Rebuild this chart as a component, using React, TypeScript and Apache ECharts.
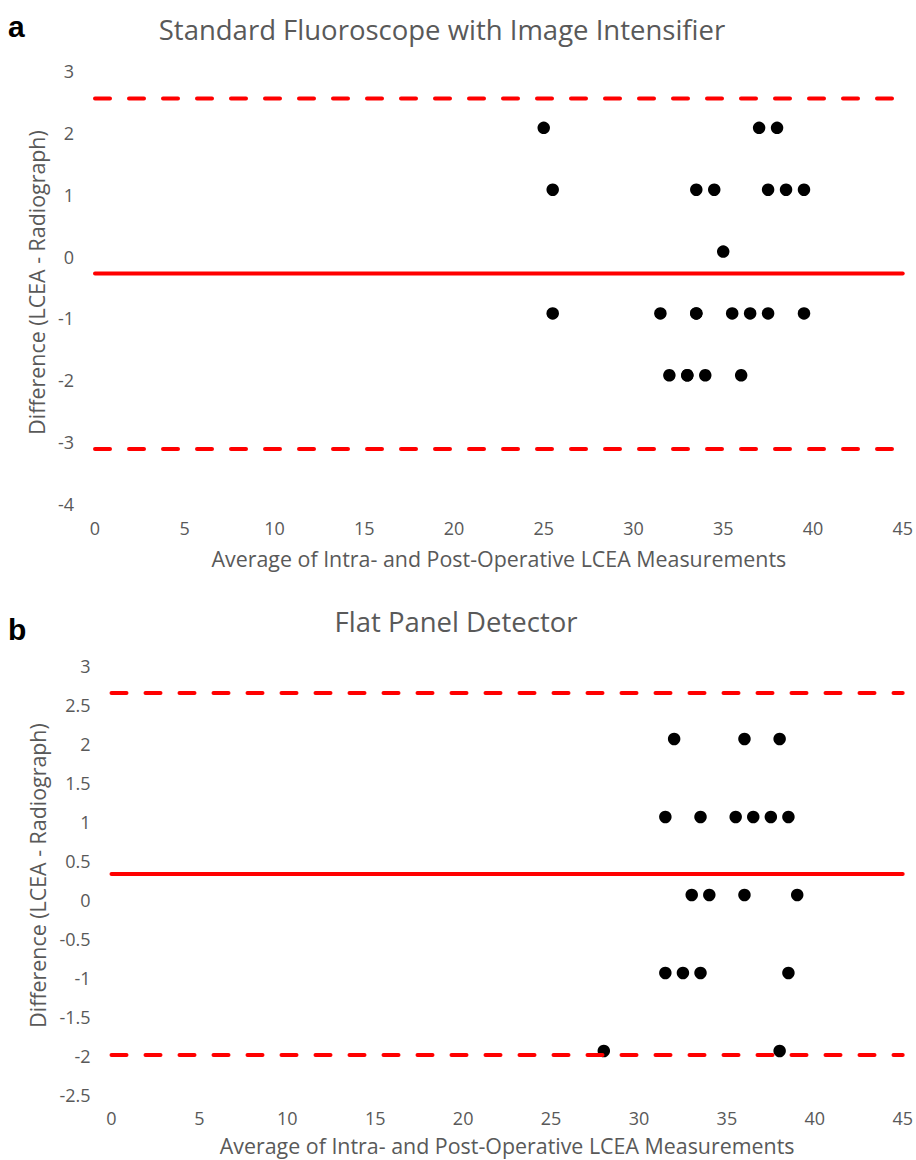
import React, { useEffect, useRef } from "react";
import * as echarts from "echarts";

// ---- Data ----
const xTicksMin = 0;
const xTicksMax = 45;
const xTickStep = 5;

// Panel a: Standard Fluoroscope with Image Intensifier
const aX = [25, 37, 38, 25.5, 33.5, 34.5, 37.5, 38.5, 39.5, 35, 25.5, 31.5, 33.5, 33.5, 35.5, 36.5, 37.5, 39.5, 32, 33, 33, 34, 36];
const aY = [2, 2, 2, 1, 1, 1, 1, 1, 1, 0, -1, -1, -1, -1, -1, -1, -1, -1, -2, -2, -2, -2, -2];
const aMean = -0.355;
const aUpper = 2.475;
const aLower = -3.19;

// Panel b: Flat Panel Detector
const bX = [32, 36, 38, 31.5, 33.5, 35.5, 36.5, 37.5, 38.5, 33, 34, 36, 39, 31.5, 32.5, 33.5, 38.5, 28, 38];
const bY = [2, 2, 2, 1, 1, 1, 1, 1, 1, 0, 0, 0, 0, -1, -1, -1, -1, -2, -2];
const bMean = 0.27;
const bUpper = 2.59;
const bLower = -2.05;

const lineXStart = 0;
const lineXEnd = 45;

const titles = ["Standard Fluoroscope with Image Intensifier", "Flat Panel Detector"];
const panelLetters = ["a", "b"];
const xName = "Average of Intra- and Post-Operative LCEA Measurements";
const yName = "Difference (LCEA - Radiograph)";

const FONT = "Open Sans";
const GREY = "#595959";
const RED = "#ff0000";

function pts(xs: number[], ys: number[]) {
  return xs.map((x, i) => [x, ys[i]]);
}

function hline(v: number, idx: number, dashed: boolean) {
  return {
    type: "line",
    xAxisIndex: idx,
    yAxisIndex: idx,
    data: [
      [lineXStart, v],
      [lineXEnd, v],
    ],
    symbol: "none",
    clip: false,
    silent: true,
    z: 5,
    lineStyle: {
      color: RED,
      width: 4,
      opacity: 1,
      type: dashed ? [15, 19] : "solid",
      cap: "round",
    },
  };
}

function xAxisCfg(idx: number, labelMargin: number, gap: number) {
  return {
    type: "value",
    gridIndex: idx,
    min: xTicksMin,
    max: xTicksMax,
    interval: xTickStep,
    axisLine: { show: false },
    axisTick: { show: false },
    splitLine: { show: false },
    axisLabel: { color: GREY, fontSize: 18, fontFamily: FONT, margin: labelMargin, lineHeight: 20 },
    name: xName,
    nameLocation: "middle",
    nameGap: gap,
    nameTextStyle: { color: GREY, fontSize: 21.4, fontFamily: FONT, lineHeight: 22 },
  };
}

function yAxisCfg(idx: number, min: number, max: number, step: number, gap: number) {
  return {
    type: "value",
    gridIndex: idx,
    min,
    max,
    interval: step,
    axisLine: { show: false },
    axisTick: { show: false },
    splitLine: { show: false },
    axisLabel: {
      color: GREY,
      fontSize: 18,
      fontFamily: FONT,
      margin: 21,
      verticalAlign: "top",
      lineHeight: 10,
    },
    name: yName,
    nameLocation: "middle",
    nameGap: gap,
    nameTextStyle: { color: GREY, fontSize: 21.4, fontFamily: FONT },
  };
}

function scatter(idx: number, xs: number[], ys: number[]) {
  return {
    type: "scatter",
    xAxisIndex: idx,
    yAxisIndex: idx,
    data: pts(xs, ys),
    symbol: "circle",
    symbolSize: 12.5,
    itemStyle: { color: "#000", opacity: 1 },
    z: 3,
  };
}

export default function App() {
  const ref = useRef<HTMLDivElement>(null);
  useEffect(() => {
    if (!ref.current) return;
    const chart = echarts.init(ref.current, undefined, { renderer: "svg" });
    chart.setOption({
      animation: false,
      backgroundColor: "#ffffff",
      title: [
        {
          text: titles[0],
          left: 437,
          top: 10,
          textAlign: "center",
          textStyle: { color: GREY, fontSize: 27.5, fontWeight: "normal", fontFamily: FONT },
        },
        {
          text: titles[1],
          left: 451,
          top: 602,
          textAlign: "center",
          textStyle: { color: GREY, fontSize: 27.5, fontWeight: "normal", fontFamily: FONT },
        },
        {
          text: panelLetters[0],
          left: 3,
          top: 6,
          textStyle: { color: "#000", fontSize: 30, fontWeight: "bold", fontFamily: "Liberation Sans" },
        },
        {
          text: panelLetters[1],
          left: 3,
          top: 609,
          textStyle: { color: "#000", fontSize: 30, fontWeight: "bold", fontFamily: "Liberation Sans" },
        },
      ],
      grid: [
        { left: 95, right: 11, top: 66, height: 433, containLabel: false },
        { left: 111.5, right: 13, top: 661, height: 429, containLabel: false },
      ],
      xAxis: [xAxisCfg(0, 19, 48), xAxisCfg(1, 18, 44)],
      yAxis: [yAxisCfg(0, -4, 3, 1, 46), yAxisCfg(1, -2.5, 3, 0.5, 62)],
      series: [
        scatter(0, aX, aY),
        hline(aMean, 0, false),
        hline(aUpper, 0, true),
        hline(aLower, 0, true),
        scatter(1, bX, bY),
        hline(bMean, 1, false),
        hline(bUpper, 1, true),
        hline(bLower, 1, true),
      ],
    });
    return () => chart.dispose();
  }, []);
  return (
    <div
      ref={ref}
      style={{ position: "absolute", left: 0, top: 0, width: 916, height: 1160, background: "#fff" }}
    />
  );
}
